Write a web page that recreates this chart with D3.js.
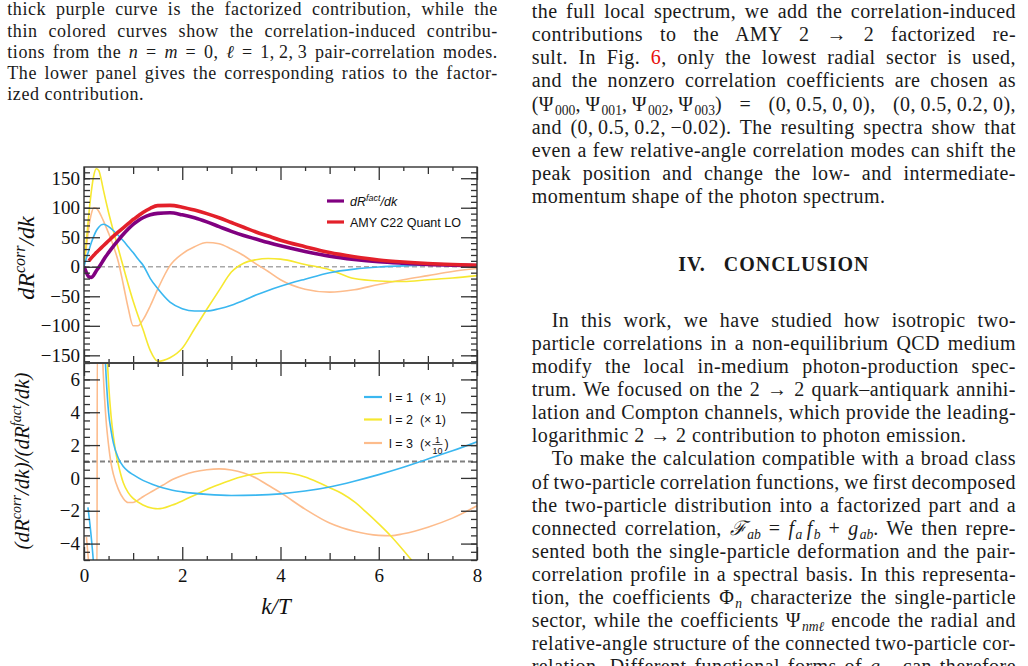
<!DOCTYPE html>
<html>
<head>
<meta charset="utf-8">
<script src="https://cdn.jsdelivr.net/npm/d3@7"></script>
<style>
  html, body { margin: 0; padding: 0; background: #fff; }
  body { width: 1028px; height: 666px; overflow: hidden; position: relative; }
  .ln { position: absolute; white-space: nowrap; font-family: "Liberation Serif", "DejaVu Serif", serif; color: #1a1a1a; }
  .body { font-size: 20px; line-height: 24px; letter-spacing: 0.45px; }
  .cap { font-size: 18px; line-height: 21.6px; letter-spacing: 0.55px; }
  .ln sub { font-size: 0.68em; vertical-align: -0.3em; line-height: 0; letter-spacing: 0; margin-left: 1px; }
  #chart { position: absolute; left: 0; top: 0; }
</style>
</head>
<body>
<svg id="chart" width="1028" height="666"></svg>
<script>
// ---- data ----
// upper panel, common k/T grid
const kUp = [0, 0.05, 0.1, 0.15, 0.2, 0.25, 0.3, 0.35, 0.4, 0.5, 0.6, 0.7, 0.8, 0.9, 1.0, 1.1, 1.2, 1.35, 1.5, 1.75,
  2.0, 2.25, 2.5, 2.75, 3.0, 3.25, 3.5, 3.75, 4.0, 4.5, 5.0, 5.5, 6.0, 6.5, 7.0, 7.5, 8.0];
const factVals = [0, -10, -17, -18, -14, -7, -1, 5, 12, 24, 35, 45, 55, 64, 72, 78, 83, 88, 90.5, 91.5,
  88, 83, 76, 68, 60, 53, 47, 41, 35.5, 26, 18, 12.5, 8.5, 6, 4, 2.8, 2];
const amyVals = [null, null, 10, 15, 19.5, 24, 28, 32, 36, 44, 52, 59, 66, 73, 80, 86, 92, 99, 103.5, 104,
  101, 96, 90, 83, 75, 67, 59, 52, 45, 34, 24, 17, 11.5, 8, 5.5, 3.8, 2.6];
const l1Vals = [0, 15, 28, 41, 52, 61, 67, 71, 72, 68, 61, 53, 44, 34, 24, 13, 3, -20, -37, -60,
  -71, -75, -75, -71, -65, -57, -48, -40, -33, -21, -10, -4, -0.5, 1.5, 2.5, 2.8, 2.8];
const l2Vals = [0, 45, 90, 128, 155, 166, 163, 148, 128, 92, 60, 30, 0, -30, -58, -83, -106, -142, -160, -154,
  -138, -105, -72, -40, -9, 6, 12, 14, 13, 4, -5, -20, -24, -25, -22, -19, -15];
const l3Vals = [0, 35, 68, 90, 100, 99, 94, 86, 77, 57, 35, 8, -30, -70, -100, -100, -90, -66, -38, 2,
  22, 34, 41, 39, 30, 19, 5, -8, -22, -38, -43, -39, -30, -22, -15, -8, -3];

// lower panel: ratios to the factorized contribution
const r1K = [0.08, 0.12, 0.16, 0.2, 0.24, 0.3, 0.42, 0.45, 0.5, 0.55, 0.6, 0.7, 0.8, 0.9, 1.0, 1.2,
  1.4, 1.6, 1.8, 2.0, 2.5, 3.0, 3.5, 4.0, 4.5, 5.0, 5.5, 6.0, 6.5, 7.0, 7.5, 8.0];
const r1Vals = [-1.8, -2.8, -4.0, -5.5, -8, null, 8, 6.2, 4.0, 2.9, 2.1, 1.2, 0.7, 0.4, 0.2, -0.15,
  -0.4, -0.6, -0.75, -0.85, -1.0, -1.07, -1.05, -0.97, -0.8, -0.55, -0.2, 0.2, 0.65, 1.15, 1.65, 2.2];
const r2K = [0.44, 0.47, 0.5, 0.55, 0.6, 0.65, 0.7, 0.8, 0.9, 1.0, 1.2, 1.4, 1.5, 1.6, 1.8, 2.0,
  2.25, 2.5, 2.75, 3.0, 3.25, 3.5, 3.75, 4.0, 4.25, 4.5, 4.75, 5.0, 5.25, 5.5, 5.75, 6.0, 6.25, 6.5, 6.75];
const r2Vals = [9, 7.5, 5.8, 3.8, 2.5, 1.5, 0.8, -0.3, -0.9, -1.25, -1.65, -1.85, -1.88, -1.85, -1.65, -1.4,
  -1.05, -0.7, -0.4, -0.12, 0.1, 0.25, 0.33, 0.33, 0.25, 0.05, -0.25, -0.6, -0.95, -1.45, -2.1, -2.8, -3.55, -4.4, -5.3];
const r3K = [0.05, 0.07, 0.09, 0.11, 0.265, 0.27, 0.37, 0.39, 0.42, 0.45, 0.5, 0.55, 0.6, 0.7, 0.8, 0.9,
  1.0, 1.1, 1.2, 1.4, 1.6, 1.8, 2.0, 2.25, 2.5, 2.75, 3.0, 3.25, 3.5, 3.75, 4.0, 4.5,
  5.0, 5.5, 6.0, 6.25, 6.5, 7.0, 7.5, 8.0];
const r3Vals = [-3.6, -4.3, -5.0, -5.8, -6, 8, 8, 6.5, 4.8, 3.5, 2.0, 0.9, 0.2, -0.7, -1.25, -1.5,
  -1.5, -1.35, -1.15, -0.8, -0.45, -0.1, 0.15, 0.38, 0.5, 0.55, 0.48, 0.3, 0.0, -0.45, -0.9, -1.9,
  -2.75, -3.25, -3.5, -3.52, -3.4, -3.0, -2.45, -1.7];

// ticks
const xMajor = [0, 2, 4, 6, 8];
const xMid = [1, 3, 5, 7];
const topMajor = [-150, -100, -50, 0, 50, 100, 150];
const botMajor = [-4, -2, 0, 2, 4, 6];

const C = { fact: "#800080", amy: "#e3202a", l1: "#3ab7f0", l2: "#f6e830", l3: "#fdbc8c" };

// ---- scales ----
const svg = d3.select("#chart");
const x = d3.scaleLinear().domain([0, 8]).range([84, 477]);
const yTop = d3.scaleLinear().domain([-163, 169]).range([363, 167]);
const yBot = d3.scaleLinear().domain([-5, 7]).range([560, 363]);

const defs = svg.append("defs");
defs.append("clipPath").attr("id", "clipTop").append("rect")
  .attr("x", 84).attr("y", 167).attr("width", 393).attr("height", 196);
defs.append("clipPath").attr("id", "clipBot").append("rect")
  .attr("x", 84).attr("y", 363).attr("width", 393).attr("height", 197);

function curve(g, ks, vs, y, color, w) {
  const pts = ks.map((k, i) => [k, vs[i]]);
  const line = d3.line().defined(d => d[1] != null)
    .x(d => x(d[0])).y(d => y(d[1])).curve(d3.curveMonotoneX);
  g.append("path").datum(pts).attr("d", line).attr("fill", "none")
    .attr("stroke", color).attr("stroke-width", w).attr("stroke-linejoin", "round");
}

// upper panel
const gTop = svg.append("g").attr("clip-path", "url(#clipTop)");
gTop.append("line").attr("x1", x(0)).attr("x2", x(8)).attr("y1", yTop(0)).attr("y2", yTop(0))
  .attr("stroke", "#a8a8a8").attr("stroke-width", 1.5).attr("stroke-dasharray", "5,3");
curve(gTop, kUp, l3Vals, yTop, C.l3, 1.6);
curve(gTop, kUp, l2Vals, yTop, C.l2, 1.6);
curve(gTop, kUp, l1Vals, yTop, C.l1, 1.6);
curve(gTop, kUp, factVals, yTop, C.fact, 3.6);
curve(gTop, kUp, amyVals, yTop, C.amy, 3.6);

// lower panel
const gBot = svg.append("g").attr("clip-path", "url(#clipBot)");
gBot.append("line").attr("x1", x(0)).attr("x2", x(8)).attr("y1", yBot(1)).attr("y2", yBot(1))
  .attr("stroke", "#808080").attr("stroke-width", 2).attr("stroke-dasharray", "5,3");
curve(gBot, r3K, r3Vals, yBot, C.l3, 1.6);
curve(gBot, r2K, r2Vals, yBot, C.l2, 1.6);
curve(gBot, r1K, r1Vals, yBot, C.l1, 1.6);

// ---- axes / frame ----
const serif = '"Liberation Serif", "DejaVu Serif", serif';
function clean(g) { g.select(".domain").remove(); g.selectAll("line").attr("stroke", "#333").attr("stroke-width", 1.3); }

function yAxes(y, major, minorStep, lo, hi) {
  const minor = d3.range(lo, hi + 1e-9, minorStep);
  svg.append("g").attr("transform", "translate(84,0)")
    .call(d3.axisLeft(y).tickValues(minor).tickSize(-6).tickFormat("")).call(clean);
  svg.append("g").attr("transform", "translate(477,0)")
    .call(d3.axisRight(y).tickValues(minor).tickSize(-6).tickFormat("")).call(clean);
  svg.append("g").attr("transform", "translate(477,0)")
    .call(d3.axisRight(y).tickValues(major).tickSize(-16).tickFormat("")).call(clean);
  const gl = svg.append("g").attr("transform", "translate(84,0)")
    .call(d3.axisLeft(y).tickValues(major).tickSize(-16).tickPadding(4)).call(clean);
  gl.selectAll("text").attr("font-family", serif).attr("font-size", 19).attr("fill", "#111");
}
yAxes(yTop, topMajor, 10, -160, 160);
yAxes(yBot, botMajor, 0.5, -5, 7);

function xTicks(yPos, dir) {
  const ax = dir < 0 ? d3.axisTop : d3.axisBottom;
  const minor = d3.range(0.5, 8, 1);
  [[minor, 4], [xMid, 7], [xMajor, 13]].forEach(([vals, len]) => {
    svg.append("g").attr("transform", `translate(0,${yPos})`)
      .call(ax(x).tickValues(vals).tickSize(-len).tickFormat("")).call(clean);
  });
}
xTicks(167, -1);
xTicks(363, 1);
xTicks(363, -1);
xTicks(560, 1);
const gx = svg.append("g").attr("transform", "translate(0,560)")
  .call(d3.axisBottom(x).tickValues(xMajor).tickSize(0).tickPadding(9)).call(clean);
gx.selectAll("text").attr("font-family", serif).attr("font-size", 19).attr("fill", "#111");

svg.append("rect").attr("x", 84).attr("y", 167).attr("width", 393).attr("height", 393)
  .attr("fill", "none").attr("stroke", "#333").attr("stroke-width", 1.4);
svg.append("line").attr("x1", 84).attr("x2", 477).attr("y1", 363).attr("y2", 363)
  .attr("stroke", "#444").attr("stroke-width", 1.8);

// axis titles
const t1 = svg.append("text").attr("transform", "translate(34,258) rotate(-90)")
  .attr("text-anchor", "middle").attr("font-family", serif).attr("font-style", "italic")
  .attr("font-size", 24).attr("fill", "#111");
t1.append("tspan").text("dR");
t1.append("tspan").attr("dy", -9).attr("font-size", 16).text("corr");
t1.append("tspan").attr("dy", 9).text("/dk");

const t2 = svg.append("text").attr("transform", "translate(29,461) rotate(-90)")
  .attr("text-anchor", "middle").attr("font-family", serif).attr("font-style", "italic")
  .attr("font-size", 21).attr("fill", "#111");
t2.append("tspan").text("(dR");
t2.append("tspan").attr("dy", -8).attr("font-size", 14).text("corr");
t2.append("tspan").attr("dy", 8).text("/dk)/(dR");
t2.append("tspan").attr("dy", -8).attr("font-size", 14).text("fact");
t2.append("tspan").attr("dy", 8).text("/dk)");

svg.append("text").attr("x", 276).attr("y", 614).attr("text-anchor", "middle")
  .attr("font-family", serif).attr("font-style", "italic").attr("font-size", 23)
  .attr("fill", "#111").text("k/T");

// ---- legends ----
const sans = '"Liberation Sans", Arial, sans-serif';
function legRow(y, color, w) {
  svg.append("line").attr("x1", 327).attr("x2", 344).attr("y1", y).attr("y2", y)
    .attr("stroke", color).attr("stroke-width", w);
}
legRow(201, C.fact, 3.2);
legRow(222, C.amy, 3.2);
const lf = svg.append("text").attr("x", 350).attr("y", 205.5).attr("font-family", sans)
  .attr("font-style", "italic").attr("font-size", 12.5).attr("fill", "#111");
lf.append("tspan").text("dR");
lf.append("tspan").attr("dy", -5).attr("font-size", 9).text("fact");
lf.append("tspan").attr("dy", 5).text("/dk");
svg.append("text").attr("x", 350).attr("y", 226.5).attr("font-family", sans)
  .attr("font-size", 12.5).attr("fill", "#111").text("AMY C22 Quant LO");

const lowLeg = [["l = 1  (× 1)", C.l1, 397], ["l = 2  (× 1)", C.l2, 419.5], ["l = 3  (×", C.l3, 443]];
lowLeg.forEach(([lab, col, y]) => {
  svg.append("line").attr("x1", 364).attr("x2", 382).attr("y1", y).attr("y2", y)
    .attr("stroke", col).attr("stroke-width", 2.2);
  const t = svg.append("text").attr("x", 389).attr("y", y + 4.5).attr("font-family", sans)
    .attr("font-size", 12.5).attr("fill", "#111").attr("xml:space", "preserve").text(lab);
  if (lab.endsWith("×")) {
    const w = t.node().getComputedTextLength();
    const fx = 389 + w + 6;
    svg.append("text").attr("x", fx).attr("y", y - 0.5).attr("text-anchor", "middle")
      .attr("font-family", sans).attr("font-size", 9).attr("fill", "#111").text("1");
    svg.append("line").attr("x1", fx - 5).attr("x2", fx + 5).attr("y1", y + 1.5).attr("y2", y + 1.5)
      .attr("stroke", "#111").attr("stroke-width", 0.7);
    svg.append("text").attr("x", fx).attr("y", y + 10.5).attr("text-anchor", "middle")
      .attr("font-family", sans).attr("font-size", 9).attr("fill", "#111").text("10");
    svg.append("text").attr("x", fx + 7).attr("y", y + 4.5).attr("font-family", sans)
      .attr("font-size", 12.5).attr("fill", "#111").text(")");
  }
});

// ---- surrounding page text ----
function addLine(cls, lx, yc, w, html, justify) {
  const fs = cls === "body" ? 20 : 18;
  const el = d3.select("body").append("div").attr("class", "ln " + cls)
    .style("left", lx + "px").style("top", (yc - 0.7075 * fs) + "px").html(html);
  if (justify) {
    const node = el.node();
    const nat = node.getBoundingClientRect().width;
    const gaps = (node.textContent.match(/ /g) || []).length;
    if (gaps) el.style("word-spacing", ((w - nat) / gaps) + "px");
  }
  return el;
}

const capLines = [
  ["thick purple curve is the factorized contribution, while the", true],
  ["thin colored curves show the correlation-induced contribu-", true],
  ["tions from the <i>n</i> = <i>m</i> = 0, <i>ℓ</i> = 1,&thinsp;2,&thinsp;3 pair-correlation modes.", true],
  ["The lower panel gives the corresponding ratios to the factor-", true],
  ["ized contribution.", false]
];
capLines.forEach(([h, j], i) => addLine("cap", 7.3, 12 + i * 21.3, 490.5, h, j));

const L = 531.7, W = 484.3;
const rightA = [
  ["the full local spectrum, we add the correlation-induced", true],
  ["contributions to the AMY 2 → 2 factorized re-", true],
  ["sult. In Fig. <span style='color:#e8100c'>6</span>, only the lowest radial sector is used,", true],
  ["and the nonzero correlation coefficients are chosen as", true],
  ["(Ψ<sub>000</sub>,&thinsp;Ψ<sub>001</sub>,&thinsp;Ψ<sub>002</sub>,&thinsp;Ψ<sub>003</sub>) = (0,&thinsp;0.5,&thinsp;0,&thinsp;0), (0,&thinsp;0.5,&thinsp;0.2,&thinsp;0),", true],
  ["and (0,&thinsp;0.5,&thinsp;0.2,&thinsp;−0.02). The resulting spectra show that", true],
  ["even a few relative-angle correlation modes can shift the", true],
  ["peak position and change the low- and intermediate-", true],
  ["momentum shape of the photon spectrum.", false]
];
rightA.forEach(([h, j], i) => addLine("body", L, 13 + i * 23.2, W, h, j));

d3.select("body").append("div").attr("class", "ln body")
  .style("left", L + "px").style("width", W + "px").style("text-align", "center")
  .style("top", (266 - 14.15) + "px").style("font-weight", "bold").style("letter-spacing", "1px")
  .html("IV.&nbsp;&nbsp;&nbsp;CONCLUSION");

const rightB = [
  ["In this work, we have studied how isotropic two-", true, 20],
  ["particle correlations in a non-equilibrium QCD medium", true, 0],
  ["modify the local in-medium photon-production spec-", true, 0],
  ["trum. We focused on the 2 → 2 quark–antiquark annihi-", true, 0],
  ["lation and Compton channels, which provide the leading-", true, 0],
  ["logarithmic 2 → 2 contribution to photon emission.", false, 0],
  ["To make the calculation compatible with a broad class", true, 20],
  ["of two-particle correlation functions, we first decomposed", true, 0],
  ["the two-particle distribution into a factorized part and a", true, 0],
  ["connected correlation, <i>ℱ<sub>ab</sub></i> = <i>f<sub>a</sub>&thinsp;f<sub>b</sub></i> + <i>g<sub>ab</sub></i>. We then repre-", true, 0],
  ["sented both the single-particle deformation and the pair-", true, 0],
  ["correlation profile in a spectral basis. In this representa-", true, 0],
  ["tion, the coefficients Φ<sub><i>n</i></sub> characterize the single-particle", true, 0],
  ["sector, while the coefficients Ψ<sub><i>nmℓ</i></sub> encode the radial and", true, 0],
  ["relative-angle structure of the connected two-particle cor-", true, 0],
  ["relation. Different functional forms of <i>g<sub>ab</sub></i> can therefore", true, 0]
];
rightB.forEach(([h, j, ind], i) => addLine("body", L + ind, 322 + i * 23.1, W - ind, h, j));
</script>
</body>
</html>
